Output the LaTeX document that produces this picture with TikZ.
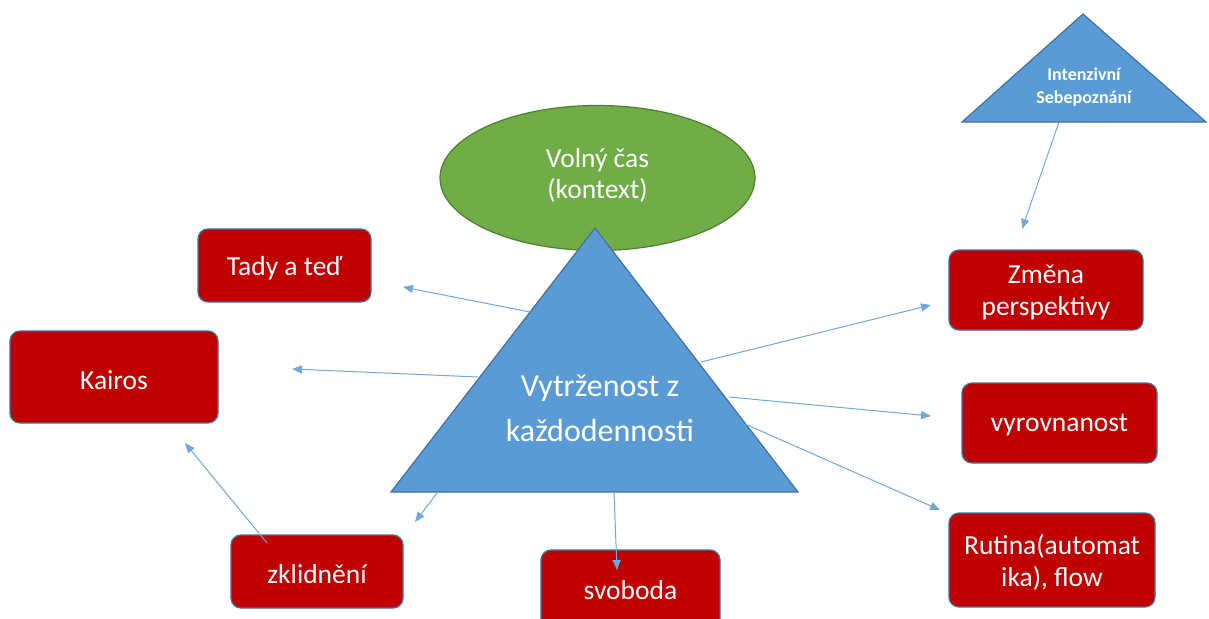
\documentclass[tikz,border=0pt]{standalone}
\usepackage{fontspec}
\setmainfont{Carlito}
\usetikzlibrary{arrows.meta,shapes.geometric}
\definecolor{boxred}{HTML}{C00000}
\definecolor{boxedge}{HTML}{41719C}
\definecolor{triblue}{HTML}{5B9BD5}
\definecolor{triedge}{HTML}{41719C}
\definecolor{elgreen}{HTML}{70AD47}
\definecolor{eledge}{HTML}{507E32}
\definecolor{arrowblue}{HTML}{6FA8DC}
\tikzset{
  redbox/.style={draw=boxedge, line width=1.3pt, fill=boxred, rounded corners=10pt, text=white, align=center, font=\fontsize{27.5}{32}\selectfont, inner sep=0pt, text depth=0pt},
  boxtext/.style={yshift=-3pt},
  conn/.style={draw=arrowblue, line width=1pt, -{Triangle[length=10pt,width=8pt]}},
  shapeedge/.style={line width=1.2pt}
}
\begin{document}
\begin{tikzpicture}[x=1pt,y=-1pt]
\useasboundingbox (0,0) rectangle (1209,618);
% ellipse
\draw[shapeedge, draw=eledge, fill=elgreen] (597.5,178) ellipse [x radius=157.5, y radius=72.5];
\node[text=white, align=center, font=\fontsize{27.5}{31}\selectfont] (ctx) at (597.5,175) {Volný čas\\(kontext)};
% big triangle
\draw[shapeedge, draw=triedge, fill=triblue] (595,228) -- (798,492) -- (391,492) -- cycle;
\node[text=white, align=center, font=\fontsize{32}{45}\selectfont] (main) at (600,408) {Vytrženost z\\každodennosti};
% small triangle
\draw[shapeedge, draw=triedge, fill=triblue] (1083,14) -- (1206,122) -- (962,122) -- cycle;
\node[text=white, align=center, font=\bfseries\fontsize{18}{23}\selectfont] (intz) at (1084,87) {Intenzivní\\Sebepoznání};
% boxes
\draw[redbox] (198,229) rectangle (371,302);
\node[text=white, font=\fontsize{27.5}{32}\selectfont] (tady) at (284.5,268) {Tady a teď};
\draw[redbox] (10,331) rectangle (218,423);
\node[text=white, font=\fontsize{27.5}{32}\selectfont] (kairos) at (114,380) {Kairos};
\draw[redbox] (231,535) rectangle (403,608);
\node[text=white, font=\fontsize{27.5}{32}\selectfont] (zkl) at (317,574) {zklidnění};
\draw[redbox] (541,550) rectangle (720,630);
\node[text=white, font=\fontsize{27.5}{32}\selectfont] (svo) at (630.5,590) {svoboda};
\draw[redbox] (949,250) rectangle (1143,330);
\node[text=white, align=center, font=\fontsize{27.5}{32}\selectfont] (zmena) at (1046,292) {Změna\\perspektivy};
\draw[redbox] (962,383) rectangle (1157,463);
\node[text=white, font=\fontsize{27.5}{32}\selectfont] (vyr) at (1059.5,425) {vyrovnanost};
\draw[redbox] (949,513) rectangle (1155,607);
\node[text=white, align=center, font=\fontsize{27.5}{32}\selectfont] (rut) at (1052,562) {Rutina(automat\\ika), flow};
% connector start/end points
\coordinate (s1) at (530,312); \coordinate (e1) at (403,287);
\coordinate (s2) at (478,377); \coordinate (e2) at (292,369);
\coordinate (s3) at (701,362); \coordinate (e3) at (931,305);
\coordinate (s4) at (729,397); \coordinate (e4) at (931,416);
\coordinate (s5) at (745,424); \coordinate (e5) at (940,510);
\coordinate (s6) at (614,493); \coordinate (e6) at (617,570);
\coordinate (s7) at (437,493); \coordinate (e7) at (415,522);
\coordinate (s8) at (267,543); \coordinate (e8) at (185,443);
\coordinate (s9) at (1059,122); \coordinate (e9) at (1022,229);
\foreach \i in {1,...,9} { \draw[conn] (s\i) -- (e\i); }
\end{tikzpicture}
\end{document}
